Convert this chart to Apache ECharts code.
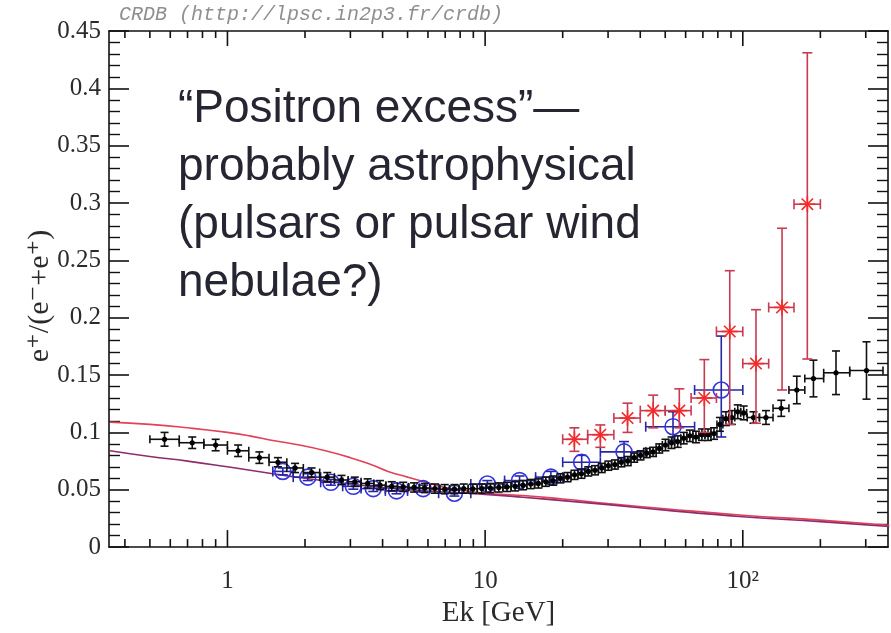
<!DOCTYPE html>
<html>
<head>
<meta charset="UTF-8">
<title>Positron fraction</title>
<script src="https://cdn.jsdelivr.net/npm/echarts@6/dist/echarts.min.js"></script>
<style>
  html, body { margin: 0; height: 100%; background: #fff; }
  #chart { width: 891px; height: 633px; }
</style>
</head>
<body>
<div id="chart"></div>
<script>
// axis ticks (GeV, log scale)
var xMajorTicks = [1, 10, 100];
var xMinorTicks = [0.4, 0.5, 0.6, 0.7, 0.8, 0.9, 2, 3, 4, 5, 6, 7, 8, 9,
                   20, 30, 40, 50, 60, 70, 80, 90, 200, 300];

// model curves
var upperE = [0.35, 0.5, 0.7, 1.0, 1.22, 1.5, 1.9, 2.4, 3.0, 3.6, 4.2, 5.0, 6.0, 7.0, 8.5, 10, 14, 20, 30, 50, 100, 200, 370];
var upperY = [0.109, 0.107, 0.104, 0.100, 0.097, 0.093, 0.089, 0.084, 0.078, 0.072, 0.066, 0.061, 0.056, 0.052, 0.049, 0.047, 0.045, 0.042, 0.038, 0.0335, 0.0278, 0.0235, 0.019];
var lowerE = [0.35, 0.5, 0.7, 1.0, 1.5, 2.0, 3.0, 4.0, 5.0, 7.0, 10, 14, 20, 30, 50, 100, 200, 370];
var lowerY = [0.084, 0.079, 0.075, 0.070, 0.064, 0.060, 0.055, 0.052, 0.050, 0.048, 0.046, 0.0435, 0.0405, 0.0370, 0.0322, 0.0265, 0.0222, 0.018];

// black points
var blackE  = [0.57, 0.73, 0.90, 1.10, 1.33, 1.57, 1.83, 2.12, 2.44, 2.77, 3.12, 3.50, 3.91, 4.34, 4.81, 5.30, 5.83, 6.38, 6.97, 7.60,
               8.26, 8.96, 9.70, 10.48, 11.30, 12.16, 13.07, 14.03, 15.03, 16.09, 17.20, 18.37, 19.59, 20.88, 22.23, 23.65, 25.14, 26.70, 28.35, 30.07,
               31.89, 33.79, 35.79, 37.89, 40.10, 42.41, 44.85, 47.41, 50.1, 52.9, 55.9, 59.0, 62.3, 65.8, 69.4, 73.3, 77.3, 81.5, 86.0, 90.7,
               95.6, 100.8, 110, 123, 141, 162, 188, 230, 302];
var blackLo = [0.50, 0.65, 0.81, 1.00, 1.21, 1.45, 1.70, 1.97, 2.28, 2.60, 2.94, 3.30, 3.70, 4.12, 4.57, 5.05, 5.56, 6.10, 6.67, 7.28,
               7.92, 8.60, 9.32, 10.08, 10.88, 11.72, 12.61, 13.54, 14.52, 15.55, 16.63, 17.77, 18.97, 20.22, 21.54, 22.93, 24.38, 25.90, 27.51, 29.19,
               30.96, 32.82, 34.77, 36.82, 38.97, 41.23, 43.60, 46.10, 48.73, 51.49, 54.39, 57.45, 60.66, 64.03, 67.58, 71.31, 75.23, 79.36, 83.70, 88.27,
               93.08, 98.14, 104, 116, 131, 151, 174, 206, 260];
var blackHi = [0.65, 0.81, 1.00, 1.21, 1.45, 1.70, 1.97, 2.28, 2.60, 2.94, 3.30, 3.70, 4.12, 4.57, 5.05, 5.56, 6.10, 6.67, 7.28, 7.92,
               8.60, 9.32, 10.08, 10.88, 11.72, 12.61, 13.54, 14.52, 15.55, 16.63, 17.77, 18.97, 20.22, 21.54, 22.93, 24.38, 25.90, 27.51, 29.19, 30.96,
               32.82, 34.77, 36.82, 38.97, 41.23, 43.60, 46.10, 48.73, 51.49, 54.39, 57.45, 60.66, 64.03, 67.58, 71.31, 75.23, 79.36, 83.70, 88.27, 93.08,
               98.14, 103.5, 116, 131, 151, 174, 206, 260, 350];
var blackY  = [0.094, 0.091, 0.089, 0.084, 0.078, 0.074, 0.069, 0.065, 0.061, 0.0585, 0.057, 0.0555, 0.054, 0.053, 0.0525, 0.052, 0.0515, 0.051, 0.0505, 0.0505,
               0.051, 0.0508, 0.051, 0.0515, 0.052, 0.0525, 0.053, 0.054, 0.055, 0.0555, 0.057, 0.058, 0.060, 0.061, 0.063, 0.064, 0.066, 0.067, 0.069, 0.071,
               0.072, 0.074, 0.075, 0.078, 0.080, 0.082, 0.083, 0.086, 0.089, 0.091, 0.092, 0.095, 0.097, 0.096, 0.098, 0.098, 0.099, 0.107, 0.112, 0.113,
               0.118, 0.117, 0.113, 0.113, 0.121, 0.137, 0.147, 0.152, 0.154];
var blackErr = [0.006, 0.005, 0.005, 0.005, 0.005, 0.004, 0.004, 0.004, 0.004, 0.004, 0.004, 0.004, 0.004, 0.004, 0.004, 0.004, 0.004, 0.004, 0.004, 0.004,
                0.004, 0.004, 0.004, 0.004, 0.004, 0.004, 0.004, 0.004, 0.004, 0.004, 0.004, 0.004, 0.004, 0.004, 0.004, 0.004, 0.004, 0.004, 0.004, 0.004,
                0.004, 0.004, 0.004, 0.004, 0.004, 0.004, 0.004, 0.004, 0.005, 0.005, 0.005, 0.005, 0.005, 0.005, 0.005, 0.005, 0.005, 0.006, 0.006, 0.006,
                0.006, 0.006, 0.005, 0.006, 0.007, 0.012, 0.016, 0.019, 0.025];

// blue circles
var blueE   = [1.64, 2.05, 2.52, 3.08, 3.68, 4.53, 5.75, 7.6, 10.2, 13.6, 18.0, 23.7, 34.6, 53.6, 82.5];
var blueLo  = [1.5, 1.8, 2.3, 2.8, 3.3, 4.1, 5.0, 6.6, 8.8, 11.9, 15.7, 20, 28, 42, 65];
var blueHi  = [1.8, 2.3, 2.8, 3.3, 4.1, 5.0, 6.6, 8.8, 11.9, 15.7, 20, 28, 42, 65, 100];
var blueY   = [0.066, 0.061, 0.0565, 0.053, 0.051, 0.049, 0.051, 0.047, 0.055, 0.058, 0.061, 0.074, 0.083, 0.105, 0.137];
var blueYLo = [0.063, 0.058, 0.054, 0.0505, 0.0485, 0.0465, 0.048, 0.0445, 0.052, 0.054, 0.056, 0.068, 0.075, 0.093, 0.096];
var blueYHi = [0.069, 0.064, 0.059, 0.0555, 0.0535, 0.0515, 0.054, 0.0495, 0.058, 0.062, 0.066, 0.080, 0.092, 0.118, 0.184];

// red stars
var redE   = [22.2, 28, 35.7, 44.9, 56.7, 70.9, 89, 112.5, 142, 178];
var redLo  = [20, 25, 31.6, 40, 50, 63, 79, 100, 126, 158];
var redHi  = [25, 31.6, 40, 50, 63, 79, 100, 126, 158, 200];
var redY   = [0.094, 0.098, 0.1125, 0.119, 0.119, 0.130, 0.188, 0.160, 0.209, 0.299];
var redYLo = [0.0835, 0.087, 0.100, 0.104, 0.104, 0.100, 0.107, 0.108, 0.137, 0.164];
var redYHi = [0.104, 0.1065, 0.1255, 0.1325, 0.138, 0.1635, 0.241, 0.207, 0.278, 0.431];

var serif = '"Liberation Serif", "DejaVu Serif", serif';
var textCol = '#2b2b2b';

function zip(cols) {
  return cols[0].map(function (_, i) {
    return cols.map(function (c) { return c[i]; });
  });
}

function seg(x1, y1, x2, y2, col, w) {
  return { type: 'line', shape: { x1: x1, y1: y1, x2: x2, y2: y2 },
           style: { stroke: col, lineWidth: w } };
}

// error bars (+ marker) drawn from data through api.coord
function errorRender(kind) {
  return function (params, api) {
    var e = api.value(0), y = api.value(1);
    var c = api.coord([e, y]);
    var l = api.coord([api.value(2), y]);
    var r = api.coord([api.value(3), y]);
    var b = api.coord([e, api.value(4)]);
    var t = api.coord([e, api.value(5)]);
    var col, w = 1.6, cap;
    if (kind === 'black') { col = '#111'; cap = 4; }
    else if (kind === 'blue') { col = '#2626a6'; cap = 5; }
    else { col = '#c83a52'; cap = 5; }
    var ch = [
      seg(l[0], c[1], r[0], c[1], col, w),
      seg(l[0], c[1] - cap, l[0], c[1] + cap, col, w),
      seg(r[0], c[1] - cap, r[0], c[1] + cap, col, w),
      seg(c[0], t[1], c[0], b[1], col, w),
      seg(c[0] - cap, t[1], c[0] + cap, t[1], col, w),
      seg(c[0] - cap, b[1], c[0] + cap, b[1], col, w)
    ];
    if (kind === 'black') {
      ch.push({ type: 'circle', shape: { cx: c[0], cy: c[1], r: 2.6 }, style: { fill: '#000' } });
    } else if (kind === 'blue') {
      ch.push({ type: 'circle', shape: { cx: c[0], cy: c[1], r: 8 },
                style: { fill: 'none', stroke: '#3434e0', lineWidth: 1.6 } });
    } else {
      var s = 8, d = 5.7, sc = '#f22a2a';
      ch.push(seg(c[0] - s, c[1], c[0] + s, c[1], sc, 1.6));
      ch.push(seg(c[0], c[1] - s, c[0], c[1] + s, sc, 1.6));
      ch.push(seg(c[0] - d, c[1] - d, c[0] + d, c[1] + d, sc, 1.6));
      ch.push(seg(c[0] - d, c[1] + d, c[0] + d, c[1] - d, sc, 1.6));
    }
    return { type: 'group', children: ch };
  };
}

// tick marks on bottom and top x axes
function tickRender(params, api) {
  var v = api.value(0), major = api.value(1);
  var p0 = api.coord([v, 0]);
  var p1 = api.coord([v, 0.45]);
  var bl = major ? 17 : 8, tl = major ? 15 : 7;
  return { type: 'group', children: [
    seg(p0[0], p0[1], p0[0], p0[1] - bl, '#111', 1.6),
    seg(p1[0], p1[1], p1[0], p1[1] + tl, '#111', 1.6)
  ] };
}

var xTicks = xMajorTicks.map(function (v) { return [v, 1]; })
  .concat(xMinorTicks.map(function (v) { return [v, 0]; }));

var chart = echarts.init(document.getElementById('chart'), null, { renderer: 'canvas' });

var yAxisBase = {
  type: 'value', min: 0, max: 0.45, interval: 0.05,
  axisLine: { show: true, lineStyle: { color: '#111', width: 1.6 } },
  axisTick: { show: true, inside: true, length: 20, lineStyle: { color: '#111', width: 1.6 } },
  minorTick: { show: true, splitNumber: 5, length: 11, lineStyle: { color: '#111', width: 1.4 } },
  splitLine: { show: false },
  minorSplitLine: { show: false }
};

var option = {
  animation: false,
  backgroundColor: '#fff',
  grid: { left: 109, right: -1, top: 31, bottom: 79 },
  xAxis: [
    {
      type: 'log', min: 0.347, max: 366, position: 'bottom',
      axisLine: { show: true, onZero: false, lineStyle: { color: '#111', width: 1.6 } },
      axisTick: { show: false },
      splitLine: { show: false },
      axisLabel: {
        margin: 22, color: textCol, fontFamily: serif, fontSize: 25,
        formatter: function (v) {
          var p = Math.log10(v);
          if (Math.abs(p - Math.round(p)) > 1e-6) return '';
          p = Math.round(p);
          return p === 2 ? '10\u00b2' : String(Math.pow(10, p));
        }
      },
      name: 'Ek [GeV]', nameLocation: 'middle', nameGap: 51,
      nameTextStyle: { color: textCol, fontFamily: serif, fontSize: 29 }
    },
    {
      type: 'log', min: 0.347, max: 366, position: 'top',
      axisLine: { show: true, onZero: false, lineStyle: { color: '#111', width: 1.6 } },
      axisTick: { show: false }, axisLabel: { show: false }, splitLine: { show: false }
    }
  ],
  yAxis: [
    echarts.util.merge({
      position: 'left',
      axisLabel: {
        margin: 8, color: textCol, fontFamily: serif, fontSize: 25,
        formatter: function (v) { return String(+v.toFixed(2)); }
      }
    }, yAxisBase),
    echarts.util.merge({ position: 'right', axisLabel: { show: false } }, yAxisBase)
  ],
  graphic: [
    {
      type: 'text', left: 119, top: 5,
      style: { text: 'CRDB (http://lpsc.in2p3.fr/crdb)', fill: '#8f8f8f',
               font: 'italic 20px "Liberation Mono", "DejaVu Sans Mono", monospace' }
    },
    {
      type: 'text', x: 40, y: 296, rotation: Math.PI / 2,
      style: { text: 'e\u207a/(e\u207b+e\u207a)', fill: textCol, align: 'center', verticalAlign: 'middle',
               font: '30px "Liberation Serif", "DejaVu Serif", serif' }
    },
    {
      type: 'text', x: 178, y: 80,
      style: {
        text: '\u201cPositron excess\u201d\u2014\nprobably astrophysical\n(pulsars or pulsar wind\nnebulae?)',
        fill: '#262632', lineHeight: 58, verticalAlign: 'top',
        font: '46px "Liberation Sans", Arial, sans-serif'
      }
    }
  ],
  series: [
    {
      type: 'custom', name: 'ticks', silent: true, clip: false, z: 5,
      renderItem: tickRender, data: xTicks, encode: { x: 0, y: 1 }
    },
    {
      type: 'line', name: 'model upper', smooth: true, showSymbol: false, silent: true,
      lineStyle: { color: '#e4405a', width: 1.6 },
      data: zip([upperE, upperY]), z: 2
    },
    {
      type: 'line', name: 'model lower', smooth: true, showSymbol: false, silent: true,
      lineStyle: { color: '#8e2c6c', width: 1.6 },
      data: zip([lowerE, lowerY]), z: 2
    },
    {
      type: 'custom', name: 'blue', renderItem: errorRender('blue'), z: 3,
      encode: { x: 0, y: 1 },
      data: zip([blueE, blueY, blueLo, blueHi, blueYLo, blueYHi])
    },
    {
      type: 'custom', name: 'black', renderItem: errorRender('black'), z: 4,
      encode: { x: 0, y: 1 },
      data: zip([blackE, blackY, blackLo, blackHi,
                 blackY.map(function (v, i) { return v - blackErr[i]; }),
                 blackY.map(function (v, i) { return v + blackErr[i]; })])
    },
    {
      type: 'custom', name: 'red', renderItem: errorRender('red'), z: 6,
      encode: { x: 0, y: 1 },
      data: zip([redE, redY, redLo, redHi, redYLo, redYHi])
    }
  ]
};

chart.setOption(option);
</script>
</body>
</html>
